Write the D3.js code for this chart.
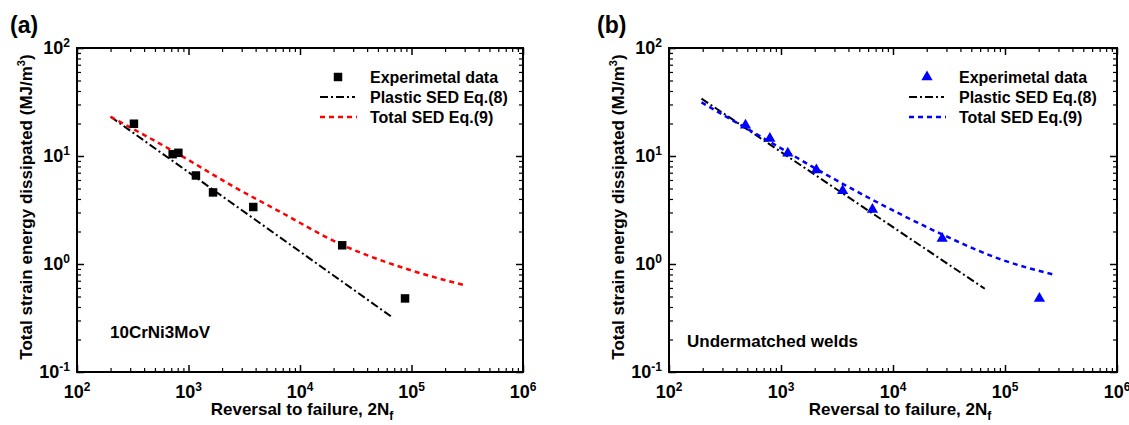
<!DOCTYPE html>
<html>
<head>
<meta charset="utf-8">
<script src="https://cdn.jsdelivr.net/npm/d3@7"></script>
<style>
body{margin:0;background:#fff;}
text{font-family:"Liberation Sans",Arial,sans-serif;font-weight:bold;fill:#000;}
</style>
</head>
<body>
<div id="chart"></div>
<script>
const xTickVals = [1e2, 1e3, 1e4, 1e5, 1e6]
const xTickExp = ["2", "3", "4", "5", "6"]
const yTickVals = [1e-1, 1e0, 1e1, 1e2]
const yTickExp = ["-1", "0", "1", "2"]
const legendNames = ["Experimetal data", "Plastic SED Eq.(8)", "Total SED Eq.(9)"]

// (a) 10CrNi3MoV
const aExpN = [324, 721, 811, 1166, 1660, 3810, 23900, 87500]
const aExpW = [19.9, 10.4, 10.7, 6.6, 4.6, 3.37, 1.49, 0.48]
const aPlasticN = [200, 68700]
const aPlasticW = [23.1, 0.316]
const aTotalN = [200, 840, 2500, 6200, 24000, 97000, 300000]
const aTotalW = [23.1, 10.2, 5.25, 3.16, 1.5, 0.88, 0.635]

// (b) undermatched welds
const bExpN = [482, 795, 1150, 2070, 3550, 6550, 27500, 203000]
const bExpW = [19.3, 14.5, 10.6, 7.41, 4.76, 3.19, 1.72, 0.48]
const bPlasticN = [195, 66000]
const bPlasticW = [34, 0.59]
const bTotalN = [195, 1125, 2015, 4400, 7150, 26300, 88000, 268000]
const bTotalW = [31.4, 10.96, 7.7, 4.9, 3.75, 1.92, 1.12, 0.8]

const svg = d3.select("#chart").append("svg")
    .attr("width", 1129)
    .attr("height", 425)

function zip(a, b) { return a.map((v, i) => [v, b[i]]) }

function minors(lo, hi) {
    const out = []
    for (let d = lo; d < hi; d *= 10)
        for (let k = 2; k <= 9; k++) out.push(d * k)
    return out
}

function drawPanel(p) {
    const width = p.right - p.left
    const height = p.bottom - p.top

    const x = d3.scaleLog().domain([1e2, 1e6]).range([0, width])
    const y = d3.scaleLog().domain([1e-1, 1e2]).range([height, 0])

    const g = svg.append("g")
        .attr("transform", "translate(" + p.left + "," + p.top + ")")

    // ticks, all pointing inwards, mirrored on every side
    const xMinor = minors(1e2, 1e6)
    const yMinor = minors(1e-1, 1e2)
    const ax = [
        [d3.axisBottom(x), "translate(0," + height + ")", xTickVals, xMinor],
        [d3.axisTop(x), "translate(0,0)", xTickVals, xMinor],
        [d3.axisLeft(y), "translate(0,0)", yTickVals, yMinor],
        [d3.axisRight(y), "translate(" + width + ",0)", yTickVals, yMinor]
    ]
    ax.forEach(a => {
        g.append("g").attr("transform", a[1])
            .call(a[0].tickValues(a[2]).tickSize(-7).tickFormat(""))
            .call(s => s.select(".domain").remove())
            .selectAll("line").attr("stroke-width", 1.5)
        g.append("g").attr("transform", a[1])
            .call(a[0].tickValues(a[3]).tickSize(-4).tickFormat(""))
            .call(s => s.select(".domain").remove())
            .selectAll("line").attr("stroke-width", 1.2)
    })

    g.append("rect")
        .attr("width", width).attr("height", height)
        .attr("fill", "none").attr("stroke", "#000").attr("stroke-width", 2)

    // tick labels 10^n
    const xl = g.selectAll(".xl").data(xTickVals).enter().append("text")
        .attr("x", d => x(d))
        .attr("y", height + 26)
        .attr("text-anchor", "middle")
        .style("font-size", "18px")
    xl.append("tspan").text("10")
    xl.append("tspan").text((d, i) => xTickExp[i])
        .attr("dy", "-7").style("font-size", "12px")

    const yl = g.selectAll(".yl").data(yTickVals).enter().append("text")
        .attr("x", -7)
        .attr("y", d => y(d) + 6)
        .attr("text-anchor", "end")
        .style("font-size", "18px")
    yl.append("tspan").text("10")
    yl.append("tspan").text((d, i) => yTickExp[i])
        .attr("dy", "-7").style("font-size", "12px")

    // axis titles
    const xt = g.append("text")
        .attr("x", p.xTitleX - p.left)
        .attr("y", height + 43)
        .attr("text-anchor", "middle")
        .style("font-size", "17px")
    xt.append("tspan").text("Reversal to failure, 2N")
    xt.append("tspan").text("f").attr("dy", 5).style("font-size", "12px")

    const yt = g.append("text")
        .attr("transform", "translate(" + (-45) + "," + (height / 2 - 3) + ") rotate(-90)")
        .attr("text-anchor", "middle")
        .style("font-size", "17px")
    yt.append("tspan").text("Total strain energy dissipated (MJ/m")
    yt.append("tspan").text("3").attr("dy", -7).style("font-size", "11px")
    yt.append("tspan").text(")").attr("dy", 7)

    svg.append("text")
        .attr("x", p.tagX).attr("y", 33)
        .style("font-size", "23px")
        .text(p.tag)

    g.append("text")
        .attr("x", p.noteX - p.left).attr("y", p.noteY - p.top)
        .style("font-size", "17px")
        .text(p.note)

    // curves
    const line = d3.line().x(d => x(d[0])).y(d => y(d[1]))
    const curve = d3.line().x(d => x(d[0])).y(d => y(d[1])).curve(d3.curveMonotoneX)

    g.append("path")
        .datum(zip(p.plasticN, p.plasticW))
        .attr("d", line)
        .attr("fill", "none").attr("stroke", "#000")
        .attr("stroke-width", 2).attr("stroke-dasharray", "8,3,2,3")

    g.append("path")
        .datum(zip(p.totalN, p.totalW))
        .attr("d", curve)
        .attr("fill", "none").attr("stroke", p.color)
        .attr("stroke-width", 2.5).attr("stroke-dasharray", "5,4")

    const sym = d3.symbol().type(p.symbol).size(p.symbolSize)
    g.selectAll(".pt").data(zip(p.expN, p.expW)).enter().append("path")
        .attr("d", sym)
        .attr("transform", d => "translate(" + x(d[0]) + "," + y(d[1]) + ")")
        .attr("fill", p.markColor)

    // legend
    const lg = svg.append("g")
    const lx = p.legendX
    lg.append("path").attr("d", sym)
        .attr("transform", "translate(" + (lx + 18) + ",77)")
        .attr("fill", p.markColor)
    lg.append("line").attr("x1", lx).attr("x2", lx + 35).attr("y1", 97).attr("y2", 97)
        .attr("stroke", "#000").attr("stroke-width", 2).attr("stroke-dasharray", "8,3,2,3")
    lg.append("line").attr("x1", lx).attr("x2", lx + 37).attr("y1", 117).attr("y2", 117)
        .attr("stroke", p.color).attr("stroke-width", 2.5).attr("stroke-dasharray", "5,4")
    lg.selectAll(".lt").data(legendNames).enter().append("text")
        .attr("x", lx + 50)
        .attr("y", (d, i) => 83 + i * 20)
        .style("font-size", "16px")
        .text(d => d)
}

drawPanel({
    left: 77, right: 523, top: 48, bottom: 372,
    tag: "(a)", tagX: 10, note: "10CrNi3MoV", noteX: 110, noteY: 338,
    xTitleX: 302, legendX: 320,
    expN: aExpN, expW: aExpW, plasticN: aPlasticN, plasticW: aPlasticW,
    totalN: aTotalN, totalW: aTotalW,
    color: "#ff0000", markColor: "#000", symbol: d3.symbolSquare, symbolSize: 72
})

drawPanel({
    left: 669, right: 1117, top: 48, bottom: 372,
    tag: "(b)", tagX: 597, note: "Undermatched welds", noteX: 687, noteY: 347,
    xTitleX: 900, legendX: 909,
    expN: bExpN, expW: bExpW, plasticN: bPlasticN, plasticW: bPlasticW,
    totalN: bTotalN, totalW: bTotalW,
    color: "#0000ff", markColor: "#0000ff", symbol: d3.symbolTriangle, symbolSize: 55
})
</script>
</body>
</html>
